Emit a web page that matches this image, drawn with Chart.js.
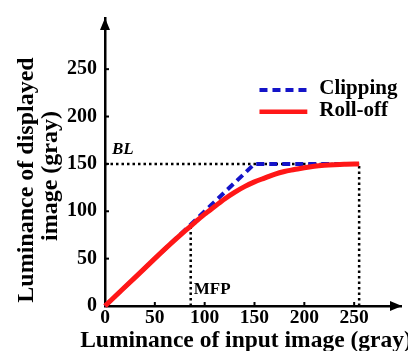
<!DOCTYPE html>
<html>
<head>
<meta charset="utf-8">
<script src="https://cdn.jsdelivr.net/npm/chart.js@4"></script>
<style>
  html,body{margin:0;padding:0;background:#fff;}
  #wrap{width:408px;height:351px;position:relative;}
</style>
</head>
<body>
<div id="wrap"><canvas id="c" width="408" height="351"></canvas></div>
<script>
// ---- data ----
const xTickValues = [0, 50, 100, 150, 200, 250];
const yTickValues = [0, 50, 100, 150, 200, 250];
const rollOffX = [0, 20, 40, 60, 80, 90, 100, 110, 120, 130, 140, 150, 160, 170, 180, 190, 200, 210, 220, 230, 240, 255];
const rollOffY = [0, 20, 40, 60, 79, 88, 97, 105, 113, 120, 126, 131, 135, 139, 142, 144, 146, 147.5, 148.5, 149.2, 149.7, 150];
const clipX = [0, 150, 255];
const clipY = [0, 150, 150];
const BL = 150;          // backlight level
const MFP = 86;          // input level of MFP
const MFP_TOP = 84;      // top of MFP guide
const INPUT_MAX = 255;
const seriesNames = ['Clipping', 'Roll-off'];
const xTitle = 'Luminance of input image (gray)';
const yTitle = ['Luminance of displayed', 'image (gray)'];
const X_MAX = 297, Y_MAX = 304;

const SERIF = '"Liberation Serif", "Times New Roman", serif';
const RED = '#ff1717';
const BLUE = '#1414c8';

const pts = (xs, ys) => xs.map((x, i) => ({x, y: ys[i]}));

const decor = {
  id: 'decor',
  afterDraw(chart) {
    const ctx = chart.ctx;
    const xs = chart.scales.x, ys = chart.scales.y;
    const x0 = xs.getPixelForValue(0), y0 = ys.getPixelForValue(0);
    const xEnd = xs.right, yTop = ys.top;
    ctx.save();
    ctx.fillStyle = '#000';
    ctx.strokeStyle = '#000';
    // arrows
    ctx.beginPath();
    ctx.moveTo(x0, yTop); ctx.lineTo(x0 - 5, yTop + 12); ctx.lineTo(x0 + 5, yTop + 12); ctx.closePath(); ctx.fill();
    ctx.beginPath();
    ctx.moveTo(xEnd + 1, y0); ctx.lineTo(xEnd - 11, y0 - 5); ctx.lineTo(xEnd - 11, y0 + 5); ctx.closePath(); ctx.fill();
    // inward tick marks
    ctx.lineWidth = 2;
    xTickValues.forEach(v => { if (v === 0) return; const p = xs.getPixelForValue(v); ctx.beginPath(); ctx.moveTo(p, y0); ctx.lineTo(p, y0 - 4); ctx.stroke(); });
    yTickValues.forEach(v => { if (v === 0) return; const p = ys.getPixelForValue(v); ctx.beginPath(); ctx.moveTo(x0, p); ctx.lineTo(x0 + 4, p); ctx.stroke(); });
    // annotations
    ctx.font = 'italic bold 17px ' + SERIF;
    ctx.textAlign = 'left'; ctx.textBaseline = 'alphabetic';
    ctx.fillText('BL', xs.getPixelForValue(7), ys.getPixelForValue(BL) - 10);
    ctx.font = 'bold 17px ' + SERIF;
    ctx.fillText('MFP', xs.getPixelForValue(MFP) + 3, ys.getPixelForValue(13));
    // legend
    const lx0 = xs.getPixelForValue(155), lx1 = xs.getPixelForValue(203), tx = xs.getPixelForValue(215);
    const ly1 = ys.getPixelForValue(228), ly2 = ys.getPixelForValue(205);
    ctx.lineWidth = 4;
    ctx.strokeStyle = BLUE; ctx.setLineDash([8, 5]);
    ctx.beginPath(); ctx.moveTo(lx0, ly1); ctx.lineTo(lx1, ly1); ctx.stroke();
    ctx.setLineDash([]);
    ctx.strokeStyle = RED; ctx.lineWidth = 4.5;
    ctx.beginPath(); ctx.moveTo(lx0, ly2); ctx.lineTo(lx1, ly2); ctx.stroke();
    ctx.font = 'bold 21px ' + SERIF;
    ctx.textBaseline = 'middle';
    ctx.fillText(seriesNames[0], tx, ly1 - 1);
    ctx.fillText(seriesNames[1], tx, ly2 - 1);
    // axis titles
    ctx.font = 'bold 23.5px ' + SERIF;
    ctx.textAlign = 'center'; ctx.textBaseline = 'alphabetic';
    ctx.fillText(xTitle, 246, 347);
    ctx.font = 'bold 24px ' + SERIF;
    ctx.save(); ctx.translate(33, 180); ctx.rotate(-Math.PI / 2); ctx.fillText(yTitle[0], 0, 0); ctx.restore();
    ctx.save(); ctx.translate(57, 176); ctx.rotate(-Math.PI / 2); ctx.fillText(yTitle[1], 0, 0); ctx.restore();
    ctx.restore();
  }
};

const dotted = { showLine: true, borderColor: '#000', borderWidth: 2.5, borderDash: [2.5, 3], pointRadius: 0 };

new Chart(document.getElementById('c'), {
  type: 'scatter',
  data: {
    datasets: [
      { label: seriesNames[1], data: pts(rollOffX, rollOffY), showLine: true, borderColor: RED, borderWidth: 5, pointRadius: 0, tension: 0.3, clip: false },
      { label: seriesNames[0], data: pts(clipX, clipY), showLine: true, borderColor: BLUE, borderWidth: 4, borderDash: [8, 5], pointRadius: 0, clip: false },
      Object.assign({ label: 'BL', data: pts([0, INPUT_MAX], [BL, BL]) }, dotted),
      Object.assign({ label: 'max', data: pts([INPUT_MAX, INPUT_MAX], [0, BL]) }, dotted),
      Object.assign({ label: 'MFP', data: pts([MFP, MFP], [0, MFP_TOP]) }, dotted)
    ]
  },
  options: {
    responsive: false,
    animation: false,
    events: [],
    layout: { padding: { top: 10, right: 7, left: 0, bottom: 0 } },
    plugins: { legend: { display: false }, tooltip: { enabled: false } },
    scales: {
      x: {
        type: 'linear', min: 0, max: X_MAX,
        afterBuildTicks: s => { s.ticks = xTickValues.map(v => ({value: v})); },
        afterFit: s => { s.height = 45; },
        grid: { display: false, drawTicks: false, tickLength: 0 },
        border: { display: true, color: '#000', width: 2.5 },
        ticks: { color: '#000', padding: 2, autoSkip: false, maxRotation: 0, font: { family: SERIF, size: 19.5, weight: 'bold', lineHeight: 1 } }
      },
      y: {
        type: 'linear', min: 0, max: Y_MAX,
        afterBuildTicks: s => { s.ticks = yTickValues.map(v => ({value: v})); },
        afterFit: s => { s.width = 105; },
        grid: { display: false, drawTicks: false, tickLength: 0 },
        border: { display: true, color: '#000', width: 2.5 },
        ticks: { color: '#000', padding: 8, autoSkip: false, font: { family: SERIF, size: 20, weight: 'bold', lineHeight: 1 } }
      }
    }
  },
  plugins: [decor]
});
</script>
</body>
</html>
